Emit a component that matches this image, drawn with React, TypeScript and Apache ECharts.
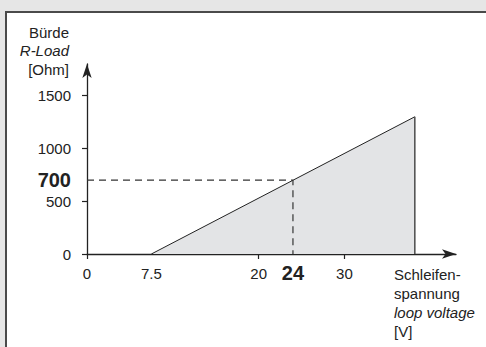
import React, { useEffect, useRef } from "react";
import * as echarts from "echarts";

// Axis ticks / labels
const voltageLabels = [0, 7.5, 20, 24, 30];
const voltageTickMarks = [0, 20, 30];
const loadLabels = [0, 500, 700, 1000, 1500];
const loadTickMarks = [0, 500, 1000, 1500];
const voltageMax = 43;
const loadMax = 1800;

// Working range curve (loop voltage [V] -> max load [Ohm])
const curveVoltage = [7.5, 38.2];
const curveLoad = [0, 1300];

// Highlighted operating point
const markVoltage = 24;
const markLoad = 700;

// Texts
const yNameLines = ["Bürde", "R-Load", "[Ohm]"];
const xNameLines = ["Schleifen-", "spannung", "loop voltage", "[V]"];

const FONT = "'Liberation Sans', Arial, Helvetica, sans-serif";

export default function App() {
  const ref = useRef<HTMLDivElement>(null);

  useEffect(() => {
    if (!ref.current) return;
    const chart = echarts.init(ref.current, undefined, { renderer: "svg" });

    const curve = curveVoltage.map((v, i) => [v, curveLoad[i]]);
    const lastV = curveVoltage[curveVoltage.length - 1];
    const lastL = curveLoad[curveLoad.length - 1];

    const rich = {
      n: { fontSize: 15, color: "#222", fontFamily: FONT, lineHeight: 20 },
      b: { fontSize: 20, fontWeight: "bold", color: "#222", fontFamily: FONT, lineHeight: 20 },
    };

    const graphics: any[] = [];
    yNameLines.forEach((t, i) => {
      graphics.push({
        type: "text",
        x: 69,
        y: 32 + i * 18.5,
        style: {
          text: t,
          font: `${i === 1 ? "italic " : ""}15px ${FONT}`,
          fill: "#222",
          align: "right",
          verticalAlign: "middle",
        },
      });
    });
    xNameLines.forEach((t, i) => {
      graphics.push({
        type: "text",
        x: 394,
        y: 274 + i * 19,
        style: {
          text: t,
          font: `${i === 2 ? "italic " : ""}15px ${FONT}`,
          fill: "#222",
          align: "left",
          verticalAlign: "middle",
        },
      });
    });

    chart.setOption({
      animation: false,
      backgroundColor: "transparent",
      textStyle: { fontFamily: FONT },
      grid: { left: 87, right: 30, top: 64, bottom: 93 },
      xAxis: {
        type: "value",
        min: 0,
        max: voltageMax,
        axisLine: {
          show: true,
          lineStyle: { color: "#222", width: 1.3 },
          symbol: ["none", "arrow"],
          symbolSize: [7, 14],
        },
        axisTick: {
          show: true,
          length: 5,
          lineStyle: { color: "#222", width: 1.2 },
          customValues: voltageTickMarks,
        },
        axisLabel: {
          margin: 9,
          customValues: voltageLabels,
          formatter: (v: number) => (v === markVoltage ? `{b|${v}}` : `{n|${v}}`),
          rich,
        },
        splitLine: { show: false },
      },
      yAxis: {
        type: "value",
        min: 0,
        max: loadMax,
        axisLine: {
          show: true,
          lineStyle: { color: "#222", width: 1.3 },
          symbol: ["none", "arrow"],
          symbolSize: [7, 14],
        },
        axisTick: {
          show: true,
          length: 5,
          lineStyle: { color: "#222", width: 1.2 },
          customValues: loadTickMarks,
        },
        axisLabel: {
          margin: 16,
          customValues: loadLabels,
          formatter: (v: number) => (v === markLoad ? `{b|${v}}` : `{n|${v}}`),
          rich,
        },
        splitLine: { show: false },
      },
      series: [
        {
          type: "line",
          data: curve,
          symbol: "none",
          lineStyle: { color: "#222", width: 1 },
          areaStyle: { color: "#e3e4e6", opacity: 1 },
          z: 2,
        },
        {
          type: "line",
          data: [
            [lastV, 0],
            [lastV, lastL],
          ],
          symbol: "none",
          lineStyle: { color: "#555", width: 1.6 },
          z: 3,
        },
        {
          type: "line",
          data: [
            [0, markLoad],
            [markVoltage, markLoad],
            [markVoltage, 0],
          ],
          symbol: "none",
          lineStyle: { color: "#333", width: 1.2, type: [7, 5] },
          z: 4,
        },
      ],
      graphic: graphics,
    });

    return () => chart.dispose();
  }, []);

  return (
    <div
      style={{
        position: "fixed",
        left: 0,
        top: 0,
        width: 486,
        height: 347,
        background: "#e6e6e6",
        overflow: "hidden",
      }}
    >
      <div
        style={{
          position: "absolute",
          left: 5,
          top: 11,
          width: 600,
          height: 400,
          background: "#fff",
          border: "2px solid #4a4a4a",
        }}
      />
      <div
        ref={ref}
        style={{ position: "absolute", left: 0, top: 0, width: 486, height: 347 }}
      />
    </div>
  );
}
